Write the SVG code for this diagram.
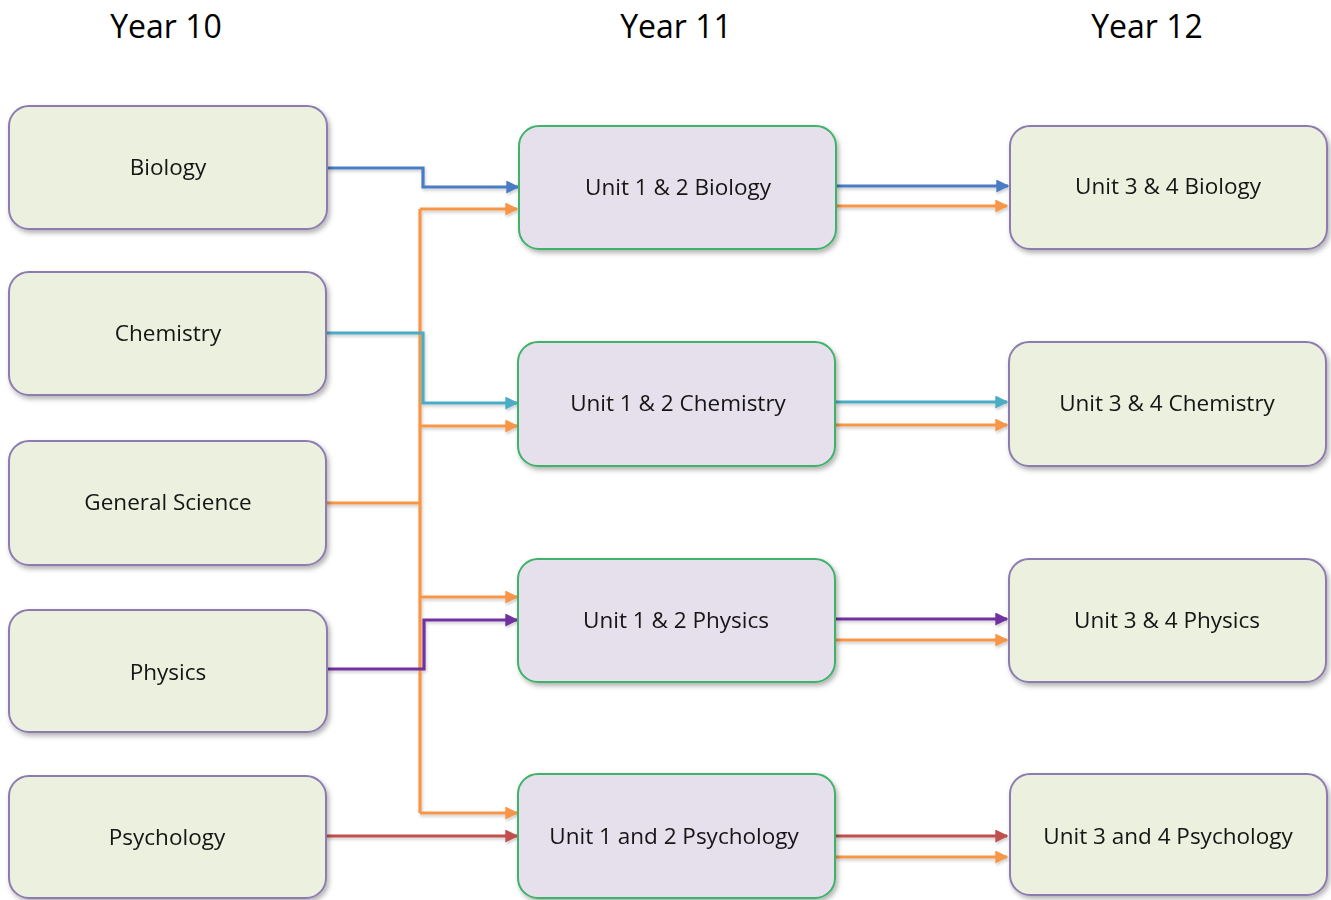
<svg xmlns="http://www.w3.org/2000/svg" width="1331" height="900" viewBox="0 0 1331 900">
<defs>
<filter id="sh" x="-10%" y="-10%" width="125%" height="135%">
<feDropShadow dx="2" dy="3" stdDeviation="2.5" flood-color="#000" flood-opacity="0.3"/>
</filter>
<filter id="lsh" x="-5%" y="-5%" width="110%" height="110%">
<feDropShadow dx="1" dy="2" stdDeviation="1.5" flood-color="#000" flood-opacity="0.2"/>
</filter>
<marker id="aBlue" viewBox="0 0 10 10" refX="9" refY="5" markerWidth="13" markerHeight="13" markerUnits="userSpaceOnUse" orient="auto"><path d="M0,0 L10,5 L0,10 z" fill="#4A7CC4"/></marker>
<marker id="aOrange" viewBox="0 0 10 10" refX="9" refY="5" markerWidth="13" markerHeight="13" markerUnits="userSpaceOnUse" orient="auto"><path d="M0,0 L10,5 L0,10 z" fill="#F79646"/></marker>
<marker id="aCyan" viewBox="0 0 10 10" refX="9" refY="5" markerWidth="13" markerHeight="13" markerUnits="userSpaceOnUse" orient="auto"><path d="M0,0 L10,5 L0,10 z" fill="#4BACC6"/></marker>
<marker id="aPurple" viewBox="0 0 10 10" refX="9" refY="5" markerWidth="13" markerHeight="13" markerUnits="userSpaceOnUse" orient="auto"><path d="M0,0 L10,5 L0,10 z" fill="#7030A0"/></marker>
<marker id="aRed" viewBox="0 0 10 10" refX="9" refY="5" markerWidth="13" markerHeight="13" markerUnits="userSpaceOnUse" orient="auto"><path d="M0,0 L10,5 L0,10 z" fill="#C0504D"/></marker>
</defs>
<style>
.hdr{font-family:"Open Sans","Liberation Sans",sans-serif;font-size:32px;fill:#000;text-anchor:middle}
.lbl{font-family:"Open Sans","Liberation Sans",sans-serif;font-size:22.5px;fill:#141414;text-anchor:middle}
.g{fill:#EBF1DE;stroke:#8E7CB0;stroke-width:2}
.p{fill:#E6E0EC;stroke:#3FB36A;stroke-width:2}
.c{fill:none;stroke-width:3.2;stroke-linejoin:miter}
.blue{stroke:#4A7CC4}
.orange{stroke:#F79646}
.cyan{stroke:#4BACC6}
.purple{stroke:#7030A0}
.red{stroke:#C0504D}
</style>
<rect width="1331" height="900" fill="#fff"/>
<g id="headers">
<text class="hdr" x="166" y="38">Year 10</text>
<text class="hdr" x="676" y="38">Year 11</text>
<text class="hdr" x="1147" y="38">Year 12</text>
</g>
<g id="connectors" filter="url(#lsh)">
<path class="c orange" d="M420,209 L420,813"/>
<path class="c orange" d="M326,503 L420,503"/>
<path class="c orange" d="M420,209 L517,209" marker-end="url(#aOrange)"/>
<path class="c orange" d="M420,426 L517,426" marker-end="url(#aOrange)"/>
<path class="c orange" d="M420,597 L517,597" marker-end="url(#aOrange)"/>
<path class="c orange" d="M420,813 L517,813" marker-end="url(#aOrange)"/>
<path class="c blue" d="M327,168 L423,168 L423,187 L518,187" marker-end="url(#aBlue)"/>
<path class="c cyan" d="M326,333 L423,333 L423,403 L517,403" marker-end="url(#aCyan)"/>
<path class="c purple" d="M327,669 L424,669 L424,620 L517,620" marker-end="url(#aPurple)"/>
<path class="c red" d="M326,836 L517,836" marker-end="url(#aRed)"/>
<path class="c blue" d="M837,186 L1008,186" marker-end="url(#aBlue)"/>
<path class="c orange" d="M837,206 L1007,206" marker-end="url(#aOrange)"/>
<path class="c cyan" d="M836,402 L1007,402" marker-end="url(#aCyan)"/>
<path class="c orange" d="M836,425 L1007,425" marker-end="url(#aOrange)"/>
<path class="c purple" d="M836,619 L1007,619" marker-end="url(#aPurple)"/>
<path class="c orange" d="M836,640 L1007,640" marker-end="url(#aOrange)"/>
<path class="c red" d="M836,836 L1007,836" marker-end="url(#aRed)"/>
<path class="c orange" d="M836,857 L1007,857" marker-end="url(#aOrange)"/>
</g>
<g id="y10-biology" filter="url(#sh)"><rect class="g" x="9" y="106" width="318" height="123" rx="20"/><text class="lbl" x="168" y="175">Biology</text></g>
<g id="y10-chemistry" filter="url(#sh)"><rect class="g" x="9" y="272" width="317" height="123" rx="20"/><text class="lbl" x="168" y="341">Chemistry</text></g>
<g id="y10-general-science" filter="url(#sh)"><rect class="g" x="9" y="441" width="317" height="124" rx="20"/><text class="lbl" x="168" y="510">General Science</text></g>
<g id="y10-physics" filter="url(#sh)"><rect class="g" x="9" y="610" width="318" height="122" rx="20"/><text class="lbl" x="168" y="680">Physics</text></g>
<g id="y10-psychology" filter="url(#sh)"><rect class="g" x="9" y="776" width="317" height="122" rx="20"/><text class="lbl" x="167" y="845">Psychology</text></g>
<g id="y11-biology" filter="url(#sh)"><rect class="p" x="519" y="126" width="317" height="123" rx="20"/><text class="lbl" x="678" y="195">Unit 1 &amp; 2 Biology</text></g>
<g id="y11-chemistry" filter="url(#sh)"><rect class="p" x="518" y="342" width="317" height="124" rx="20"/><text class="lbl" x="678" y="411">Unit 1 &amp; 2 Chemistry</text></g>
<g id="y11-physics" filter="url(#sh)"><rect class="p" x="518" y="559" width="317" height="123" rx="20"/><text class="lbl" x="676" y="628">Unit 1 &amp; 2 Physics</text></g>
<g id="y11-psychology" filter="url(#sh)"><rect class="p" x="518" y="774" width="317" height="124" rx="20"/><text class="lbl" x="674" y="844">Unit 1 and 2 Psychology</text></g>
<g id="y12-biology" filter="url(#sh)"><rect class="g" x="1010" y="126" width="317" height="123" rx="20"/><text class="lbl" x="1168" y="194">Unit 3 &amp; 4 Biology</text></g>
<g id="y12-chemistry" filter="url(#sh)"><rect class="g" x="1009" y="342" width="317" height="124" rx="20"/><text class="lbl" x="1167" y="411">Unit 3 &amp; 4 Chemistry</text></g>
<g id="y12-physics" filter="url(#sh)"><rect class="g" x="1009" y="559" width="317" height="123" rx="20"/><text class="lbl" x="1167" y="628">Unit 3 &amp; 4 Physics</text></g>
<g id="y12-psychology" filter="url(#sh)"><rect class="g" x="1010" y="774" width="317" height="121" rx="20"/><text class="lbl" x="1168" y="844">Unit 3 and 4 Psychology</text></g>
</svg>
